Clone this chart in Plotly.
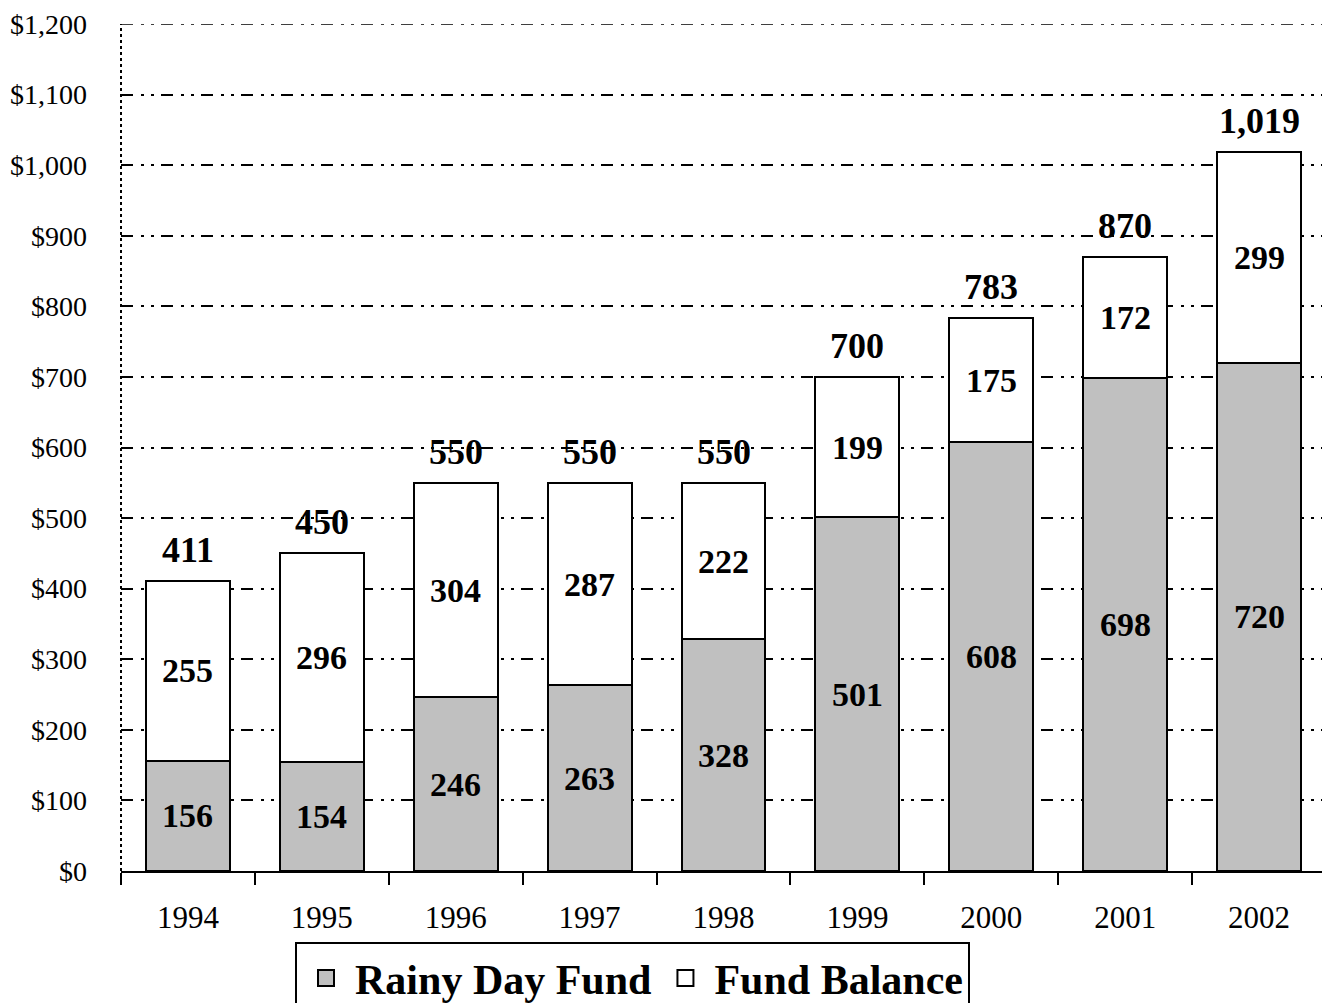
import plotly.graph_objects as go

years = ["1994", "1995", "1996", "1997", "1998", "1999", "2000", "2001", "2002"]
rainy_day = [156, 154, 246, 263, 328, 501, 608, 698, 720]
fund_balance = [255, 296, 304, 287, 222, 199, 175, 172, 299]
totals = [411, 450, 550, 550, 550, 700, 783, 870, 1019]
series_names = ["Rainy Day Fund", "Fund Balance"]
series_colors = ["#C0C0C0", "white"]
y_max = 1200

FONT = "Liberation Serif"
GRID_DASH = "12px,8px,3px,7px,3px,7px"

fig = go.Figure()
for vals, name, col in zip([rainy_day, fund_balance], series_names, series_colors):
    fig.add_trace(go.Bar(
        x=years, y=vals, name=name, showlegend=False,
        marker=dict(color=col, line=dict(color="black", width=2)),
    ))
# legend-only entries with larger square symbols
for name, col in zip(series_names, series_colors):
    fig.add_trace(go.Scatter(
        x=[None], y=[None], mode="markers", name=name,
        marker=dict(symbol="square", size=16, color=col, line=dict(color="black", width=2)),
    ))

annotations = []
for i, (r, f, t) in enumerate(zip(rainy_day, fund_balance, totals)):
    annotations.append(dict(x=i, y=r / 2, text=f"{r:,}", showarrow=False,
                            font=dict(family=FONT, size=34, color="black", weight="bold")))
    annotations.append(dict(x=i, y=r + f / 2, text=f"{f:,}", showarrow=False,
                            font=dict(family=FONT, size=34, color="black", weight="bold")))
    annotations.append(dict(x=i, y=t, text=f"{t:,}", showarrow=False, yanchor="bottom", yshift=9,
                            font=dict(family=FONT, size=36, color="black", weight="bold")))

fig.update_layout(
    barmode="stack",
    bargap=0.373,
    width=1322, height=995,
    margin=dict(l=113, r=4, t=16, b=132, autoexpand=False),
    plot_bgcolor="white", paper_bgcolor="white",
    font=dict(family=FONT, color="black"),
    annotations=annotations,
    showlegend=True,
    legend=dict(
        orientation="h", x=0.4245, xanchor="center", y=-0.084, yanchor="top",
        font=dict(family=FONT, size=42, color="black", weight="bold"),
        bordercolor="black", borderwidth=2, bgcolor="white",
        itemsizing="trace", itemwidth=48, traceorder="normal",
    ),
    xaxis=dict(
        type="category",
        showline=True, linecolor="black", linewidth=2,
        ticks="outside", tickson="boundaries", ticklen=12, tickwidth=2, tickcolor="black",
        tickfont=dict(family=FONT, size=31, color="black"),
        ticklabelstandoff=18,
        showgrid=False, tickangle=0,
    ),
    yaxis=dict(
        range=[0, y_max], dtick=100,
        tickprefix="$", tickformat=",",
        tickfont=dict(family=FONT, size=28, color="black"),
        ticklabeloverflow="allow",
        showgrid=True, gridcolor="black", gridwidth=1.6,
        griddash=GRID_DASH,
        showline=False, zeroline=False,
        ticks="", ticklabelstandoff=33,
    ),
    shapes=[
        dict(type="line", xref="paper", yref="paper", x0=0, x1=0, y0=0, y1=1,
             line=dict(color="black", width=2, dash="dot")),
        dict(type="line", xref="paper", yref="y", x0=0, x1=1, y0=y_max, y1=y_max,
             layer="below", line=dict(color="black", width=1.6, dash=GRID_DASH)),
    ],
)

fig.write_html("out.html")
